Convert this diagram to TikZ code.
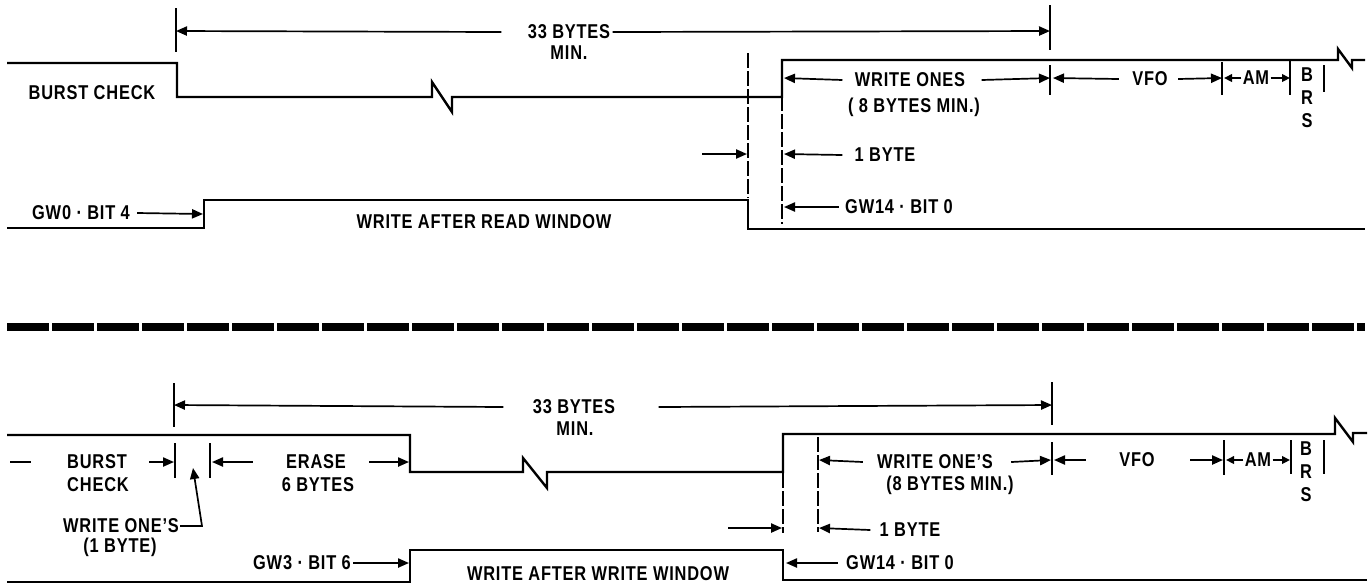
\documentclass[tikz,border=0pt]{standalone}
\usepackage{fontspec}
\setmainfont{Liberation Sans}
\newfontfamily\lblfont[FakeStretch=0.82,LetterSpace=4]{Liberation Sans}
\usetikzlibrary{arrows.meta,positioning}

\begin{document}
\begin{tikzpicture}[x=0.5pt,y=-0.5pt,>={Triangle[length=5.5pt,width=4.6pt]},
 sig/.style={line width=1.2pt},
 dim/.style={line width=0.85pt},
 tick/.style={line width=0.8pt},
 guide/.style={line width=0.75pt,dash pattern=on 7.5pt off 1.5pt},
 sepline/.style={line width=3.8pt,dash pattern=on 21pt off 1.5pt},
 small/.style={>={Triangle[length=4pt,width=3.8pt]}},
 lbl/.style={font=\lblfont\bfseries\fontsize{10}{11.5}\selectfont,inner sep=0pt,align=center}]
\useasboundingbox (0,0) rectangle (1372,586);

% upper timing: write after read
\draw[tick] (176,8) -- (176,52);
\draw[tick] (1050,5) -- (1050,50);
\node[lbl] (totA) at (569,32) {33 BYTES};
\node[lbl] (minA) at (569,53) {MIN.};
\coordinate (totAl) at (176,31);
\coordinate (totAr) at (1050,31);
\draw[dim,->] ([xshift=-13pt]totA.west) -- (totAl);
\draw[dim,->] ([xshift=1pt]totA.east) -- (totAr);

\draw[sig] (7,63) -- (177,63) -- (177,97) -- (432,97) -- (432,82) -- (452,112) -- (452,97)
 -- (782,97) -- (782,60) -- (1338,60) -- (1338,49) -- (1352,68) -- (1352,60) -- (1365,60);
\node[lbl] (bcA) at (92,93) {BURST CHECK};

\draw[guide] (748,53) -- (748,198);
\draw[guide] (782,60) -- (782,224);

\node[lbl] (woA) at (910,80) {WRITE ONES};
\node[lbl] (woAb) at (914,107) {( 8 BYTES MIN.)};
\coordinate (woAl) at (784,78);
\coordinate (woAr) at (1050,78);
\draw[dim,->] ([xshift=-6pt]woA.west) -- (woAl);
\draw[dim,->] ([xshift=8pt]woA.east) -- (woAr);
\draw[tick] (1050,65) -- (1050,95);
\node[lbl] (vfoA) at (1150,79) {VFO};
\coordinate (vfoAl) at (1053,78);
\coordinate (vfoAr) at (1222,78);
\draw[dim,->] ([xshift=-6.5pt]vfoA.west) -- (vfoAl);
\draw[dim,->] ([xshift=5pt]vfoA.east) -- (vfoAr);
\draw[tick] (1222,62) -- (1222,95);
\node[lbl] (amA) at (1256,78) {AM};
\coordinate (amAl) at (1224,78);
\coordinate (amAr) at (1290,78);
\draw[dim,small,->] ([xshift=-0.5pt]amA.west) -- (amAl);
\draw[dim,small,->] ([xshift=0.5pt]amA.east) -- (amAr);
\draw[tick] (1290,59) -- (1290,95);
\node[lbl] (brsA) at (1307,98) {B\\R\\S};
\draw[tick] (1324,65) -- (1324,92);

\coordinate (obAs) at (702,154);
\coordinate (obAt) at (747,154);
\draw[dim,->] (obAs) -- (obAt);
\node[lbl] (obA) at (885,155) {1 BYTE};
\coordinate (obAl) at (784,154);
\draw[dim,->] ([xshift=-6pt]obA.west) -- (obAl);

\node[lbl] (gw14A) at (899,207) {GW14 · BIT 0};
\coordinate (gw14Al) at (784,207);
\draw[dim,->] ([xshift=-3pt]gw14A.west) -- (gw14Al);

\draw[sig] (7,228) -- (204,228) -- (204,200) -- (748,200) -- (748,229) -- (1365,229);
\node[lbl] (gw0) at (81,213) {GW0 · BIT 4};
\coordinate (gw0t) at (203,214);
\draw[dim,->] ([xshift=3.5pt]gw0.east) -- (gw0t);
\node[lbl] (warw) at (484,222) {WRITE AFTER READ WINDOW};

\draw[sepline] (7,327) -- (1365,327);

% lower timing: write after write
\draw[tick] (174,383) -- (174,427);
\draw[tick] (1052,382) -- (1052,425);
\node[lbl] (totB) at (574,407) {33 BYTES};
\node[lbl] (minB) at (575,429) {MIN.};
\coordinate (totBl) at (174,405);
\coordinate (totBr) at (1052,405);
\draw[dim,->] ([xshift=-14.5pt]totB.west) -- (totBl);
\draw[dim,->] ([xshift=21.5pt]totB.east) -- (totBr);

\draw[sig] (7,435) -- (410,435) -- (410,472) -- (523,472) -- (523,458) -- (547,488) -- (547,472)
 -- (783,472) -- (783,434) -- (1335,434) -- (1335,418) -- (1353,442) -- (1353,433) -- (1367,433);

\draw[guide] (783,437) -- (783,533);
\draw[guide] (818,437) -- (818,532);

\coordinate (dashl) at (10,462);
\coordinate (dashr) at (31,462);
\draw[dim] (dashl) -- (dashr);
\node[lbl] (burst) at (97,462) {BURST};
\node[lbl] (check) at (98,485) {CHECK};
\coordinate (burstt) at (174,462);
\draw[dim,->] ([xshift=11pt]burst.east) -- (burstt);
\draw[tick] (175,443) -- (175,478);
\draw[tick] (210,443) -- (210,478);
\node[lbl] (erase) at (316,462) {ERASE};
\node[lbl] (erasb) at (318,485) {6 BYTES};
\coordinate (erasel) at (212,462);
\coordinate (eraser) at (409,462);
\draw[dim,->] ([xshift=-16.5pt]erase.west) -- (erasel);
\draw[dim,->] ([xshift=11.5pt]erase.east) -- (eraser);

\node[lbl] (woone) at (121,526) {WRITE ONE’S};
\node[lbl] (wooneb) at (120,547) {(1 BYTE)};
\coordinate (wooneT) at (193,468);
\draw[dim,->] ([xshift=0.5pt]woone.east) -- (202,526) -- (wooneT);

\node[lbl] (woB) at (935,462) {WRITE ONE’S};
\node[lbl] (woBb) at (950,485) {(8 BYTES MIN.)};
\coordinate (woBl) at (819,460);
\coordinate (woBr) at (1051,460);
\draw[dim,->] ([xshift=-7pt]woB.west) -- (woBl);
\draw[dim,->] ([xshift=9pt]woB.east) -- (woBr);
\draw[tick] (1052,442) -- (1052,475);
\node[lbl] (vfoB) at (1137,460) {VFO};
\coordinate (vfoBl) at (1054,460);
\coordinate (vfoBr) at (1223,460);
\draw[dim,->] ([xshift=-16.5pt]vfoB.west) -- (vfoBl);
\draw[dim,->] ([xshift=17.5pt]vfoB.east) -- (vfoBr);
\draw[tick] (1224,440) -- (1224,475);
\node[lbl] (amB) at (1258,460) {AM};
\coordinate (amBl) at (1226,460);
\coordinate (amBr) at (1290,460);
\draw[dim,small,->] ([xshift=-0.5pt]amB.west) -- (amBl);
\draw[dim,small,->] ([xshift=0.5pt]amB.east) -- (amBr);
\draw[tick] (1291,440) -- (1291,474);
\node[lbl] (brsB) at (1306,472) {B\\R\\S};
\draw[tick] (1324,440) -- (1324,474);

\coordinate (obBs) at (728,528);
\coordinate (obBt) at (782,528);
\draw[dim,->] (obBs) -- (obBt);
\node[lbl] (obB) at (910,530) {1 BYTE};
\coordinate (obBl) at (819,528);
\draw[dim,->] ([xshift=-4.5pt]obB.west) -- (obBl);

\node[lbl] (gw3) at (302,563) {GW3 · BIT 6};
\coordinate (gw3t) at (409,563);
\draw[dim,->] ([xshift=1pt]gw3.east) -- (gw3t);
\node[lbl] (gw14B) at (900,563) {GW14 · BIT 0};
\coordinate (gw14Bl) at (786,563);
\draw[dim,->] ([xshift=-4pt]gw14B.west) -- (gw14Bl);

\draw[sig] (7,582) -- (410,582) -- (410,550) -- (783,550) -- (783,580) -- (1367,580);
\node[lbl] (waww) at (598,574) {WRITE AFTER WRITE WINDOW};
\end{tikzpicture}
\end{document}
